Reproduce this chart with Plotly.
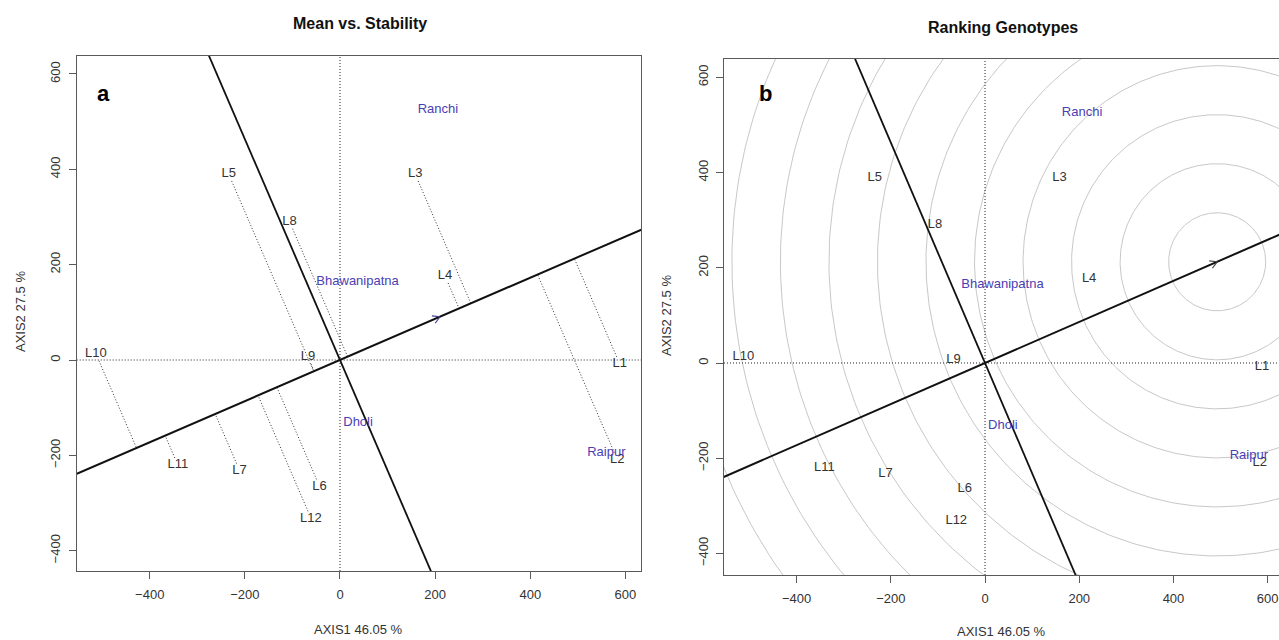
import numpy as np
import plotly.graph_objects as go

# ---------------- data ----------------
genotypes = ["L1", "L2", "L3", "L4", "L5", "L6", "L7", "L8", "L9", "L10", "L11", "L12"]
gen_x = [588, 583, 158, 221, -234, -43, -211, -106, -67, -513, -341, -61]
gen_y = [-8, -209, 390, 176, 390, -265, -232, 290, 6, 13, -220, -332]

environments = ["Ranchi", "Bhawanipatna", "Dholi", "Raipur"]
env_x = [206, 37, 38, 560]
env_y = [526, 164, -132, -195]

x_ticks = [-400, -200, 0, 200, 400, 600]
y_ticks = [-400, -200, 0, 200, 400, 600]
panel_titles = ["Mean vs. Stability", "Ranking Genotypes"]
panel_tags = ["a", "b"]
axis1_label = "AXIS1 46.05 %"
axis2_label = "AXIS2 27.5 %"

ring_count = 12
ring_step = 103

# ---------------- styling / layout ----------------
W, H = 1279, 640
FONT = "Liberation Sans, Arial, sans-serif"
GEN_COLOR = "#333333"
ENV_COLOR = "#4a40b4"
FRAME = "#5a5a5a"
DOTS = "1px,2px"

gx = np.array(gen_x, float)
gy = np.array(gen_y, float)
ex = np.array(env_x, float)
ey = np.array(env_y, float)

# average environment axis
mx, my = ex.mean(), ey.mean()
norm = np.hypot(mx, my)
u = np.array([mx, my]) / norm
v = np.array([-u[1], u[0]])
proj = gx * u[0] + gy * u[1]
ideal = proj.max() * u

panels = [
    dict(xa="x", ya="y", xdom=[76.7 / W, 641 / W], ydom=[1 - 571 / H, 1 - 56 / H],
         xr=[-553.5, 632.8], yr=[-442.6, 637.7], mirror_y=True),
    dict(xa="x2", ya="y2", xdom=[724 / W, 1.0], ydom=[1 - 575 / H, 1 - 59 / H],
         xr=[-554, 624], yr=[-445.4, 638.7], mirror_y=False),
]

fig = go.Figure()


def add(trace, p):
    trace.update(xaxis=p["xa"], yaxis=p["ya"], showlegend=False, hoverinfo="skip")
    fig.add_trace(trace)


def arrowhead(tip, p, color):
    ang = np.arctan2(u[1], u[0])
    L = 17
    xs, ys = [], []
    for s in (+1, -1):
        a = ang + np.pi + s * np.radians(30)
        xs += [tip[0] + L * np.cos(a), tip[0], None]
        ys += [tip[1] + L * np.sin(a), tip[1], None]
    add(go.Scatter(x=xs, y=ys, mode="lines", line=dict(color=color, width=1.2)), p)


for k, p in enumerate(panels):
    # concentric circles (ranking panel)
    if k == 1:
        th = np.linspace(0, 2 * np.pi, 361)
        for i in range(1, ring_count + 1):
            r = ring_step * i
            add(go.Scatter(x=ideal[0] + r * np.cos(th), y=ideal[1] + r * np.sin(th),
                           mode="lines", line=dict(color="#c8c8c8", width=1)), p)
    # dotted zero axes
    add(go.Scatter(x=[p["xr"][0], p["xr"][1]], y=[0, 0], mode="lines",
                   line=dict(color="#222", width=1, dash=DOTS)), p)
    add(go.Scatter(x=[0, 0], y=[p["yr"][0], p["yr"][1]], mode="lines",
                   line=dict(color="#222", width=1, dash=DOTS)), p)
    # projection lines (mean vs stability panel)
    if k == 0:
        xs, ys = [], []
        for i in range(len(gx)):
            fx, fy = proj[i] * u[0], proj[i] * u[1]
            d = np.array([fx - gx[i], fy - gy[i]])
            dl = np.hypot(*d)
            sx, sy = gx[i] + d[0] / dl * 16, gy[i] + d[1] / dl * 16
            xs += [sx, fx, None]
            ys += [sy, fy, None]
        add(go.Scatter(x=xs, y=ys, mode="lines",
                       line=dict(color="#333", width=1, dash=DOTS)), p)
    # AEC abscissa and ordinate
    T = 3000
    add(go.Scatter(x=[-T * u[0], T * u[0]], y=[-T * u[1], T * u[1]], mode="lines",
                   line=dict(color="#111", width=2)), p)
    add(go.Scatter(x=[-T * v[0], T * v[0]], y=[-T * v[1], T * v[1]], mode="lines",
                   line=dict(color="#111", width=1.8)), p)
    # arrowhead
    if k == 0:
        arrowhead((mx, my), p, "#3a3a8a")
    else:
        arrowhead(ideal, p, "#444")
    # labels
    add(go.Scatter(x=gx, y=gy, mode="text", text=genotypes, textposition="middle center",
                   textfont=dict(family=FONT, size=13, color=GEN_COLOR)), p)
    add(go.Scatter(x=ex, y=ey, mode="text", text=environments, textposition="middle center",
                   textfont=dict(family=FONT, size=13, color=ENV_COLOR)), p)

axis_common = dict(showgrid=False, zeroline=False, showline=True, linecolor=FRAME,
                   linewidth=1.3, ticks="outside", ticklen=7, tickcolor=FRAME, tickwidth=1.2,
                   tickfont=dict(family=FONT, size=13, color="#333"))

for k, p in enumerate(panels):
    sfx = "" if k == 0 else "2"
    fig.update_layout(**{
        "xaxis" + sfx: dict(axis_common, domain=p["xdom"], range=p["xr"], tickvals=x_ticks,
                            mirror=True, anchor="y" + sfx, ticklabelstandoff=4),
        "yaxis" + sfx: dict(axis_common, domain=p["ydom"], range=p["yr"], tickvals=y_ticks,
                            mirror=p["mirror_y"], anchor="x" + sfx, tickangle=-90,
                            ticklabelstandoff=3),
    })

annotations = []
title_pos = [(360, 24), (1003, 27)]
tag_pos = [(103, 94), (765, 94)]
x_lab_pos = [(358, 629), (1001, 631)]
y_lab_pos = [(20, 312), (666, 316)]
for k in range(2):
    annotations.append(dict(x=title_pos[k][0] / W, y=1 - title_pos[k][1] / H, xref="paper", yref="paper",
                            text="<b>%s</b>" % panel_titles[k], showarrow=False,
                            font=dict(family=FONT, size=16, color="#111"),
                            xanchor="center", yanchor="middle"))
    annotations.append(dict(x=tag_pos[k][0] / W, y=1 - tag_pos[k][1] / H, xref="paper", yref="paper",
                            text="<b>%s</b>" % panel_tags[k], showarrow=False,
                            font=dict(family=FONT, size=22, color="#000"),
                            xanchor="center", yanchor="middle"))
    annotations.append(dict(x=x_lab_pos[k][0] / W, y=1 - x_lab_pos[k][1] / H, xref="paper", yref="paper",
                            text=axis1_label, showarrow=False,
                            font=dict(family=FONT, size=13, color="#333"),
                            xanchor="center", yanchor="middle"))
    annotations.append(dict(x=y_lab_pos[k][0] / W, y=1 - y_lab_pos[k][1] / H, xref="paper", yref="paper",
                            text=axis2_label, showarrow=False, textangle=-90,
                            font=dict(family=FONT, size=13, color="#333"),
                            xanchor="center", yanchor="middle"))

fig.update_layout(width=W, height=H, margin=dict(l=0, r=0, t=0, b=0),
                  paper_bgcolor="white", plot_bgcolor="white",
                  annotations=annotations, showlegend=False)

fig.write_html("out.html")
